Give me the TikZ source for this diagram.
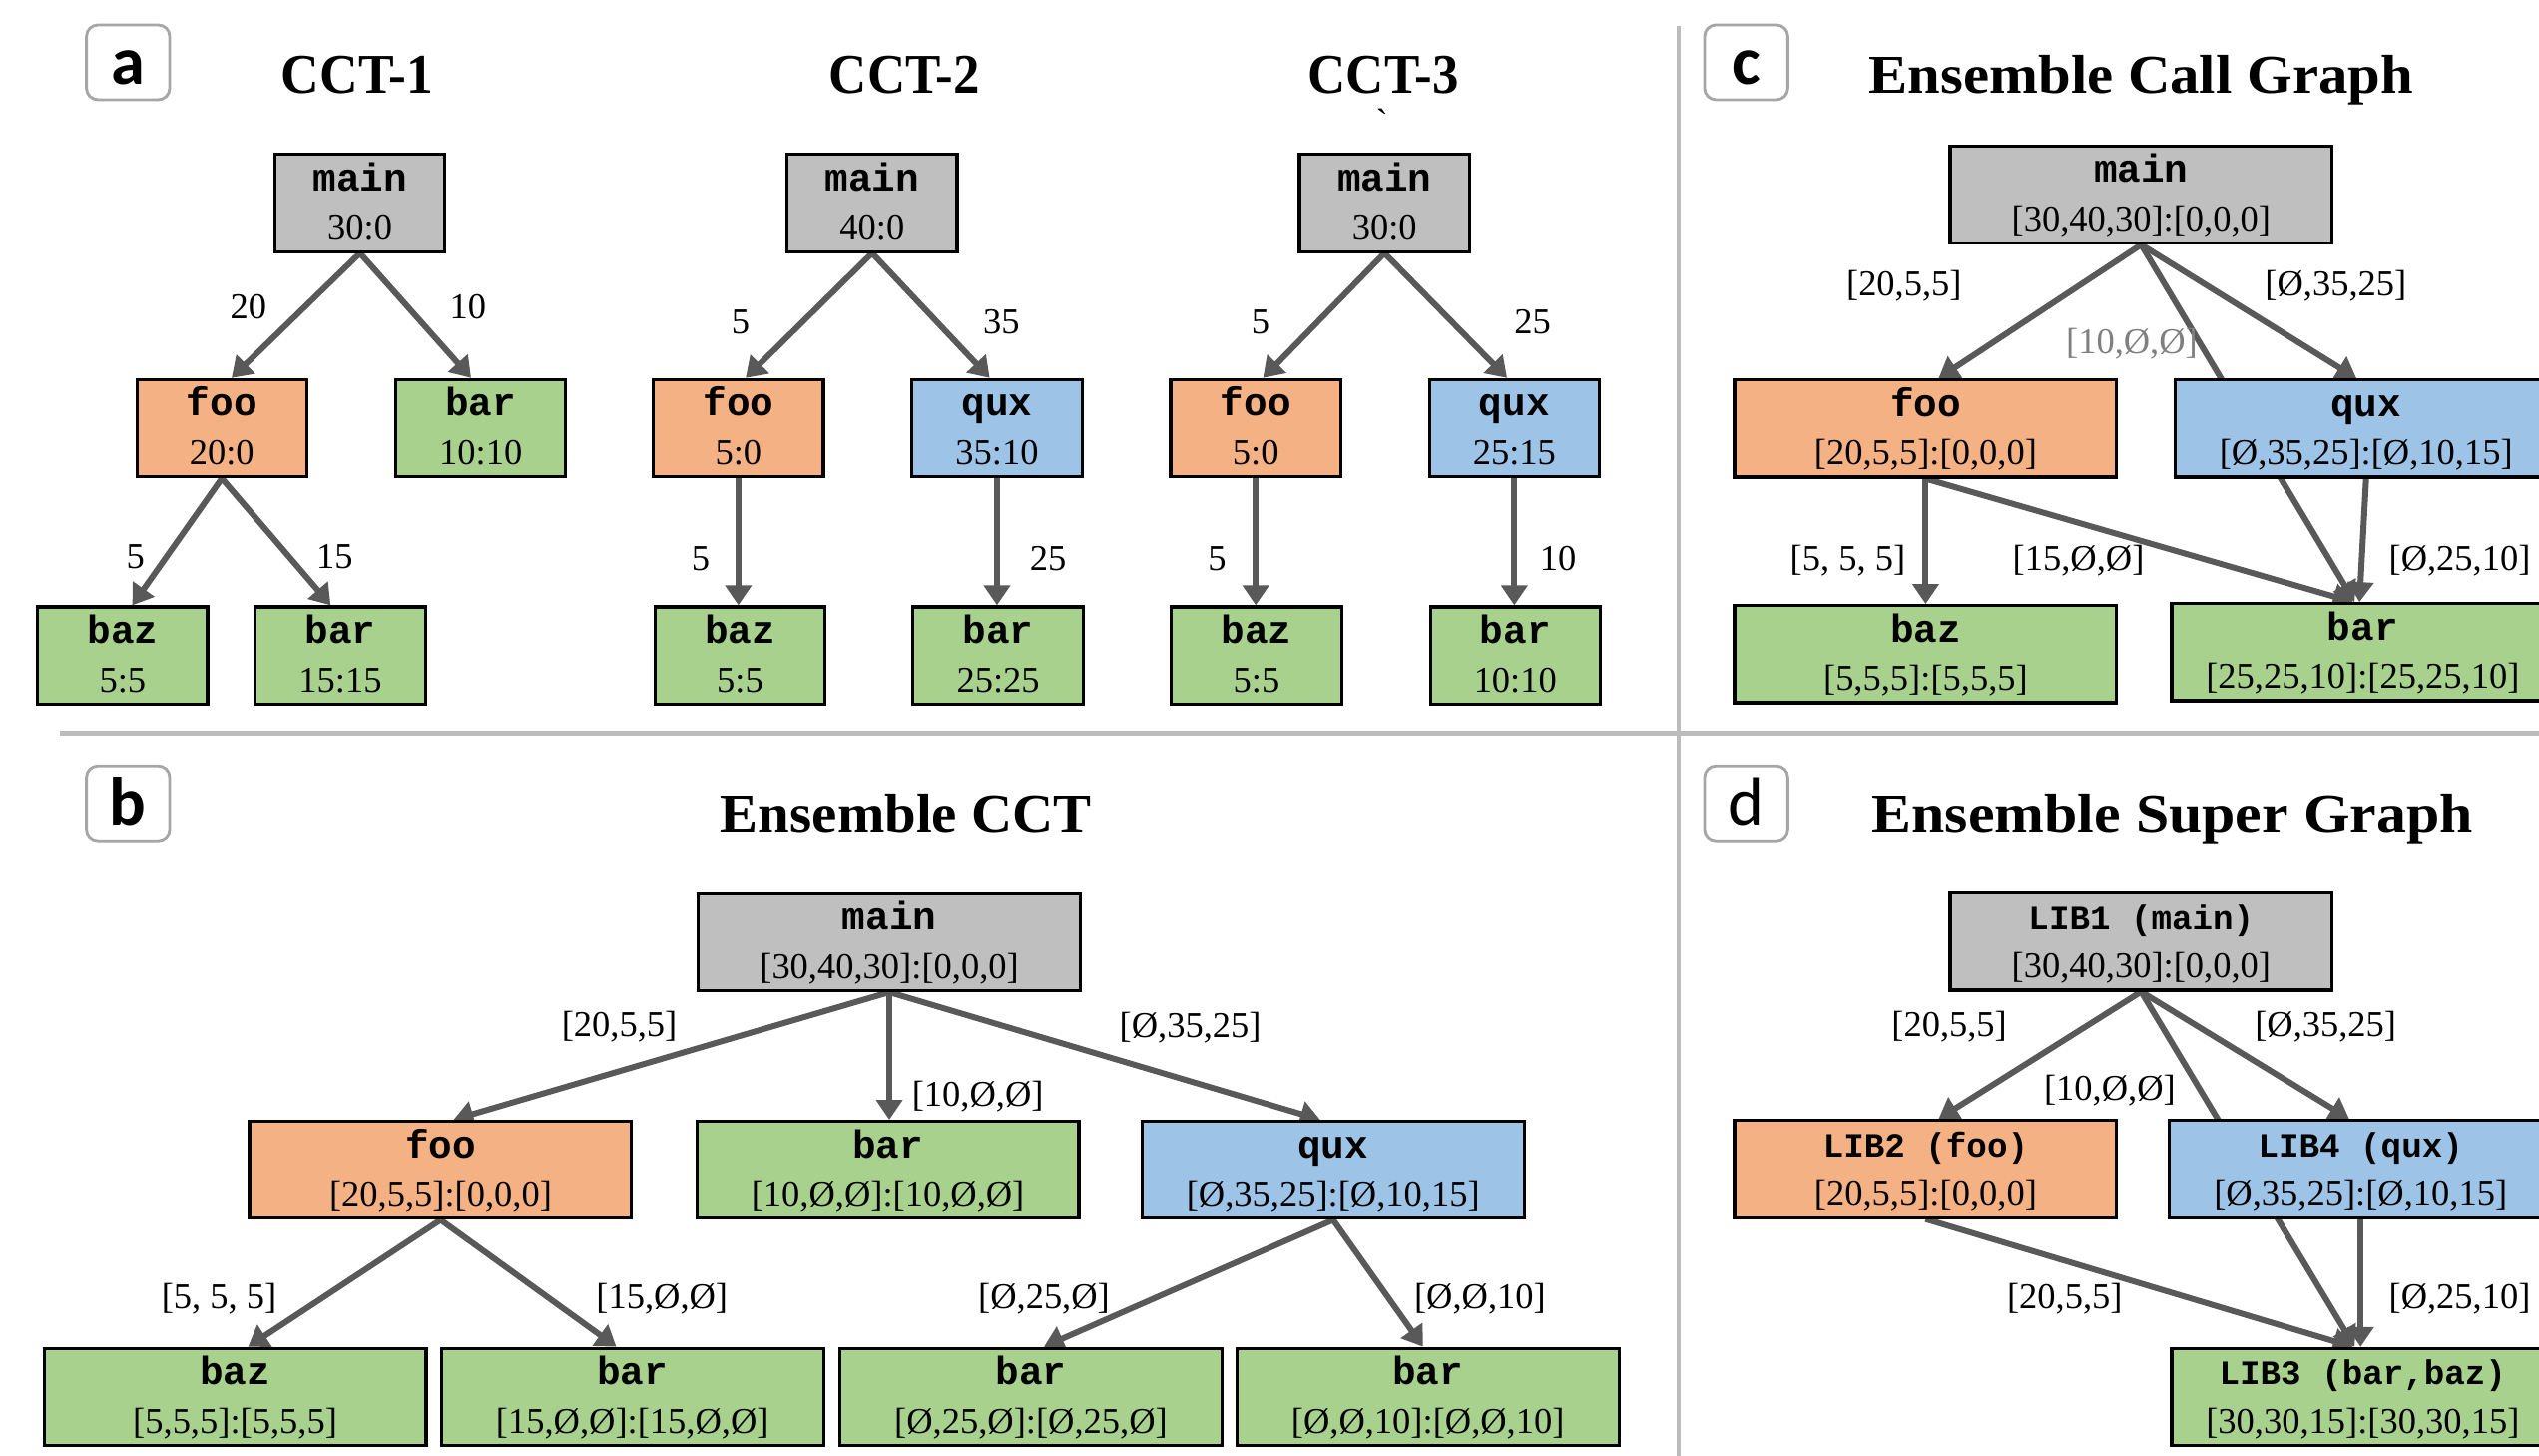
\documentclass[tikz,border=0pt]{standalone}
\usepackage{fontspec}
\usepackage{graphicx}
\setmainfont{Liberation Serif}
\newfontfamily\monof{Liberation Mono}
\newfontfamily\lblf{Carlito}
\usetikzlibrary{arrows.meta,calc}
\definecolor{fillgray}{HTML}{BFBFBF}
\definecolor{fillorange}{HTML}{F4B183}
\definecolor{fillblue}{HTML}{9DC3E6}
\definecolor{fillgreen}{HTML}{A9D18E}
\definecolor{edgegray}{HTML}{595959}
\definecolor{divgray}{HTML}{BBBBBB}
\definecolor{lblgray}{HTML}{A6A6A6}
\definecolor{labgray}{HTML}{7F7F7F}
\newlength{\px}\setlength{\px}{0.02cm}
\newcommand{\nmfont}{\monof\bfseries\fontsize{13.8pt}{16pt}\selectfont}
\newcommand{\nmsfont}{\monof\bfseries\fontsize{12pt}{14pt}\selectfont}
\newcommand{\vlfont}{\fontsize{12.8pt}{15pt}\selectfont}
\newcommand{\twol}[3][\nmfont]{\smash{\makebox[0pt]{\raisebox{7.5\px}{#1#2}}\makebox[0pt]{\raisebox{-22.5\px}{\vlfont#3}}}}
\newcommand{\ttltext}[3]{\resizebox{#1\px}{#2\px}{\bfseries #3}}
\pgfdeclarelayer{edgelayer}
\pgfsetlayers{edgelayer,main}
\begin{document}
\begin{tikzpicture}[x=0.02cm,y=-0.02cm,
  nbox/.style={draw=black, line width=1.1pt, rectangle, inner sep=0pt, minimum height=1.2cm},
  sbox/.style={nbox, minimum width=2.1cm},
  wbox/.style={nbox, minimum width=4.72cm},
  gr/.style={fill=fillgray}, og/.style={fill=fillorange}, bl/.style={fill=fillblue}, gn/.style={fill=fillgreen},
  conn/.style={draw=edgegray, line width=2.1pt, -{Triangle[length=7pt,width=9pt]}},
  elab/.style={inner sep=0pt, font=\vlfont},
  ttl/.style={inner sep=0pt, anchor=base},
  pbox/.style={draw=lblgray, line width=1pt, rounded corners=4pt, fill=white, minimum width=1.028cm, minimum height=0.924cm, inner sep=0pt, text height=0.54cm, text depth=0pt, font=\lblf\fontsize{24pt}{28pt}\selectfont},
  divider/.style={draw=divgray, line width=1.6pt}]
\useasboundingbox (0,0) rectangle (1568,899);
\clip (0,0) rectangle (1568,899);
% dividers
\coordinate (vt) at (1036.6,15.8);
\coordinate (vb) at (1036.6,899);
\coordinate (hl) at (36.8,453.3);
\coordinate (hr) at (1568,453.3);
\draw[divider] (vt) -- (vb);
\draw[divider] (hl) -- (hr);
% panel labels
\node[pbox] (pa) at (79.1,38.5) {\bfseries a};
\node[pbox] (pb) at (79.1,496.6) {\bfseries b};
\node[pbox] (pc) at (1078.4,38.5) {\bfseries c};
\node[pbox] (pd) at (1078.4,496.6) {d};
% titles
\node[ttl] (t1) at (220.8,57.5) {\ttltext{94}{23}{CCT-1}};
\node[ttl] (t2) at (558.6,57.5) {\ttltext{93}{23}{CCT-2}};
\node[ttl] (t3) at (854.3,57.5) {\ttltext{93}{23}{CCT-3}};
\node[elab] (bt) at (853.5,75) {\textasciigrave};
\node[ttl] (tc) at (1322.2,57.5) {\ttltext{336}{23.5}{Ensemble Call Graph}};
\node[ttl] (tb) at (559.5,514.5) {\ttltext{229}{23.5}{Ensemble CCT}};
\node[ttl] (td) at (1341.6,514.5) {\ttltext{371}{23.5}{Ensemble Super Graph}};
% ---------- panel a : CCT-1
\node[sbox,gr] (a1main) at (222.3,125.4) {\twol{main}{30:0}};
\node[sbox,og] (a1foo) at (137,264.4) {\twol{foo}{20:0}};
\node[sbox,gn] (a1bar) at (296.9,264.4) {\twol{bar}{10:10}};
\node[sbox,gn] (a1baz) at (75.7,404.7) {\twol{baz}{5:5}};
\node[sbox,gn] (a1bar2) at (210.2,404.7) {\twol{bar}{15:15}};
\node[elab] (l11) at (153.4,189.4) {20};
\node[elab] (l12) at (289,189.4) {10};
\node[elab] (l13) at (83.7,343.6) {5};
\node[elab] (l14) at (206.7,343.6) {15};
% CCT-2
\node[sbox,gr] (a2main) at (538.6,125.4) {\twol{main}{40:0}};
\node[sbox,og] (a2foo) at (456,264.4) {\twol{foo}{5:0}};
\node[sbox,bl] (a2qux) at (615.7,264.4) {\twol{qux}{35:10}};
\node[sbox,gn] (a2baz) at (457,404.7) {\twol{baz}{5:5}};
\node[sbox,gn] (a2bar) at (616.4,404.7) {\twol{bar}{25:25}};
\node[elab] (l21) at (457.4,198.7) {5};
\node[elab] (l22) at (618.4,198.7) {35};
\node[elab] (l23) at (432.7,344.8) {5};
\node[elab] (l24) at (647.3,344.8) {25};
% CCT-3
\node[sbox,gr] (a3main) at (855,125.4) {\twol{main}{30:0}};
\node[sbox,og] (a3foo) at (775.5,264.4) {\twol{foo}{5:0}};
\node[sbox,bl] (a3qux) at (935.2,264.4) {\twol{qux}{25:15}};
\node[sbox,gn] (a3baz) at (776,404.7) {\twol{baz}{5:5}};
\node[sbox,gn] (a3bar) at (935.8,404.7) {\twol{bar}{10:10}};
\node[elab] (l31) at (778.5,198.7) {5};
\node[elab] (l32) at (946.5,198.7) {25};
\node[elab] (l33) at (751.7,344.8) {5};
\node[elab] (l34) at (962.2,344.8) {10};
% ---------- panel b : Ensemble CCT
\node[wbox,gr] (bmain) at (549.2,581.7) {\twol{main}{[30,40,30]:[0,0,0]}};
\node[wbox,og] (bfoo) at (272.1,722.5) {\twol{foo}{[20,5,5]:[0,0,0]}};
\node[wbox,gn] (bbar) at (548.3,722.5) {\twol{bar}{[10,Ø,Ø]:[10,Ø,Ø]}};
\node[wbox,bl] (bqux) at (823.3,722.5) {\twol{qux}{[Ø,35,25]:[Ø,10,15]}};
\node[wbox,gn] (bbaz) at (145.2,862.8) {\twol{baz}{[5,5,5]:[5,5,5]}};
\node[wbox,gn] (bbar2) at (390.6,862.8) {\twol{bar}{[15,Ø,Ø]:[15,Ø,Ø]}};
\node[wbox,gn] (bbar3) at (636.7,862.8) {\twol{bar}{[Ø,25,Ø]:[Ø,25,Ø]}};
\node[wbox,gn] (bbar4) at (881.8,862.8) {\twol{bar}{[Ø,Ø,10]:[Ø,Ø,10]}};
\node[elab] (lb1) at (382.5,634) {[20,5,5]};
\node[elab] (lb2) at (603.8,677.3) {[10,Ø,Ø]};
\node[elab] (lb3) at (735.1,634.4) {[Ø,35,25]};
\node[elab] (lb4) at (135.3,802.3) {[5, 5, 5]};
\node[elab] (lb5) at (408.8,802.3) {[15,Ø,Ø]};
\node[elab] (lb6) at (644.7,802.3) {[Ø,25,Ø]};
\node[elab] (lb7) at (914,802.3) {[Ø,Ø,10]};
% ---------- panel c : Ensemble Call Graph
\node[wbox,gr] (cmain) at (1322.3,120.2) {\twol{main}{[30,40,30]:[0,0,0]}};
\node[wbox,og] (cfoo) at (1189.2,264.6) {\twol{foo}{[20,5,5]:[0,0,0]}};
\node[wbox,bl] (cqux) at (1461.2,264.6) {\twol{qux}{[Ø,35,25]:[Ø,10,15]}};
\node[wbox,gn] (cbaz) at (1189.2,403.9) {\twol{baz}{[5,5,5]:[5,5,5]}};
\node[wbox,gn] (cbar) at (1459.1,402.7) {\twol{bar}{[25,25,10]:[25,25,10]}};
\node[elab] (lc1) at (1175.9,176.5) {[20,5,5]};
\node[elab] (lc2) at (1442.5,176.5) {[Ø,35,25]};
\node[elab,text=labgray] (lc3) at (1316.5,212.3) {[10,Ø,Ø]};
\node[elab] (lc4) at (1141.1,346) {[5, 5, 5]};
\node[elab] (lc5) at (1283.6,346) {[15,Ø,Ø]};
\node[elab] (lc6) at (1519,346) {[Ø,25,10]};
% ---------- panel d : Ensemble Super Graph
\node[wbox,gr] (dl1) at (1322.3,581.4) {\twol[\nmsfont]{LIB1 (main)}{[30,40,30]:[0,0,0]}};
\node[wbox,og] (dl2) at (1189.2,722) {\twol[\nmsfont]{LIB2 (foo)}{[20,5,5]:[0,0,0]}};
\node[wbox,bl] (dl4) at (1457.8,722) {\twol[\nmsfont]{LIB4 (qux)}{[Ø,35,25]:[Ø,10,15]}};
\node[wbox,gn] (dl3) at (1459.1,862.9) {\twol[\nmsfont]{LIB3 (bar,baz)}{[30,30,15]:[30,30,15]}};
\node[elab] (ld1) at (1203.8,633.7) {[20,5,5]};
\node[elab] (ld2) at (1302.9,673.5) {[10,Ø,Ø]};
\node[elab] (ld3) at (1436.2,633.7) {[Ø,35,25]};
\node[elab] (ld4) at (1275.1,802.5) {[20,5,5]};
\node[elab] (ld5) at (1519,802.5) {[Ø,25,10]};
% ---------- connectors (behind the boxes)
\begin{pgfonlayer}{edgelayer}
\draw[conn] (a1main.south) -- ($(a1foo.north)+(6,0)$);
\draw[conn] (a1main.south) -- ($(a1bar.north)+(-6,0)$);
\draw[conn] (a1foo.south) -- ($(a1baz.north)+(6,0)$);
\draw[conn] (a1foo.south) -- ($(a1bar2.north)+(-6,0)$);
\draw[conn] (a2main.south) -- ($(a2foo.north)+(4.5,0)$);
\draw[conn] (a2main.south) -- ($(a2qux.north)+(-4.5,0)$);
\draw[conn] (a2foo.south) -- (a2foo.south |- a2baz.north);
\draw[conn] (a2qux.south) -- (a2qux.south |- a2bar.north);
\draw[conn] (a3main.south) -- ($(a3foo.north)+(4.5,0)$);
\draw[conn] (a3main.south) -- ($(a3qux.north)+(-4.5,0)$);
\draw[conn] (a3foo.south) -- (a3foo.south |- a3baz.north);
\draw[conn] (a3qux.south) -- (a3qux.south |- a3bar.north);
\draw[conn] (bmain.south) -- ($(bfoo.north)+(8,0)$);
\draw[conn] (bmain.south) -- (bmain.south |- bbar.north);
\draw[conn] (bmain.south) -- ($(bqux.north)+(-8,0)$);
\draw[conn] (bfoo.south) -- ($(bbaz.north)+(8,0)$);
\draw[conn] (bfoo.south) -- ($(bbar2.north)+(-10,0)$);
\draw[conn] (bqux.south) -- ($(bbar3.north)+(8,0)$);
\draw[conn] (bqux.south) -- ($(bbar4.north)+(-3,0)$);
\draw[conn] (cmain.south) -- ($(cfoo.north)+(8,0)$);
\draw[conn] (cmain.south) -- ($(cbar.north)+(-5,0)$);
\draw[conn] (cmain.south) -- ($(cqux.north)+(-6,0)$);
\draw[conn] (cfoo.south) -- (cfoo.south |- cbaz.north);
\draw[conn] (cfoo.south) -- ($(cbar.north)+(-6,0)$);
\draw[conn] (cqux.south) -- ($(cbar.north)+(-2,0)$);
\draw[conn] (dl1.south) -- ($(dl2.north)+(8,0)$);
\draw[conn] (dl1.south) -- ($(dl3.north)+(-5,0)$);
\draw[conn] (dl1.south) -- ($(dl4.north)+(-7,0)$);
\draw[conn] (dl2.south) -- ($(dl3.north)+(-6,0)$);
\draw[conn] (dl4.south) -- (dl4.south |- dl3.north);
\end{pgfonlayer}
\end{tikzpicture}
\end{document}
